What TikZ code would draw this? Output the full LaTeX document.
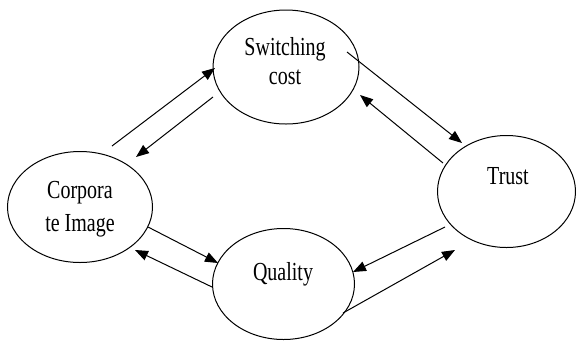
\documentclass[tikz,border=0pt]{standalone}
\usepackage{fontspec}
\setmainfont{Liberation Serif}
\usetikzlibrary{shapes.geometric,arrows.meta}
\newcommand\tallword[1]{\scalebox{1}[1.3]{#1}}
\begin{document}
\begin{tikzpicture}[x=1pt,y=-1pt,
  var/.style={draw,ellipse,line width=1pt,inner sep=0pt},
  lbl/.style={anchor=base,inner sep=0pt,font=\fontsize{20}{24}\selectfont},
  link/.style={line width=1pt,-{Triangle[length=13pt,width=10pt]}}]
\useasboundingbox (0,0) rectangle (576,341);

% constructs
\node[var,minimum width=146pt,minimum height=114pt] (sc) at (286,67) {};
\node[var,minimum width=145pt,minimum height=111pt] (ci) at (80,207) {};
\node[var,minimum width=138pt,minimum height=112pt] (tr) at (506.5,191.5) {};
\node[var,minimum width=142pt,minimum height=111pt] (qu) at (283.5,284) {};

% labels
\node[lbl] (sc1) at (285,55) {\tallword{Switching}};
\node[lbl] (sc2) at (285,84) {\tallword{cost}};
\node[lbl] (ci1) at (80,198) {\tallword{Corpora}};
\node[lbl] (ci2) at (80,231) {\tallword{te Image}};
\node[lbl] (tr1) at (508,184) {\tallword{Trust}};
\node[lbl] (qu1) at (283,280) {\tallword{Quality}};

% arrow end points
\coordinate (a1s) at (112,146); \coordinate (a1e) at (215,68);
\coordinate (a2s) at (213,97);  \coordinate (a2e) at (136,157);
\coordinate (a3s) at (347,52);  \coordinate (a3e) at (462,143);
\coordinate (a4s) at (443,163); \coordinate (a4e) at (360,95);
\coordinate (a5s) at (148,227); \coordinate (a5e) at (218,263);
\coordinate (a6s) at (212,287); \coordinate (a6e) at (135,250);
\coordinate (a7s) at (445,227); \coordinate (a7e) at (353,272);
\coordinate (a8s) at (343,313); \coordinate (a8e) at (455,250);

% relations
\draw[link] (a1s) -- (a1e);
\draw[link] (a2s) -- (a2e);
\draw[link] (a3s) -- (a3e);
\draw[link] (a4s) -- (a4e);
\draw[link] (a5s) -- (a5e);
\draw[link] (a6s) -- (a6e);
\draw[link] (a7s) -- (a7e);
\draw[link] (a8s) -- (a8e);
\end{tikzpicture}
\end{document}
